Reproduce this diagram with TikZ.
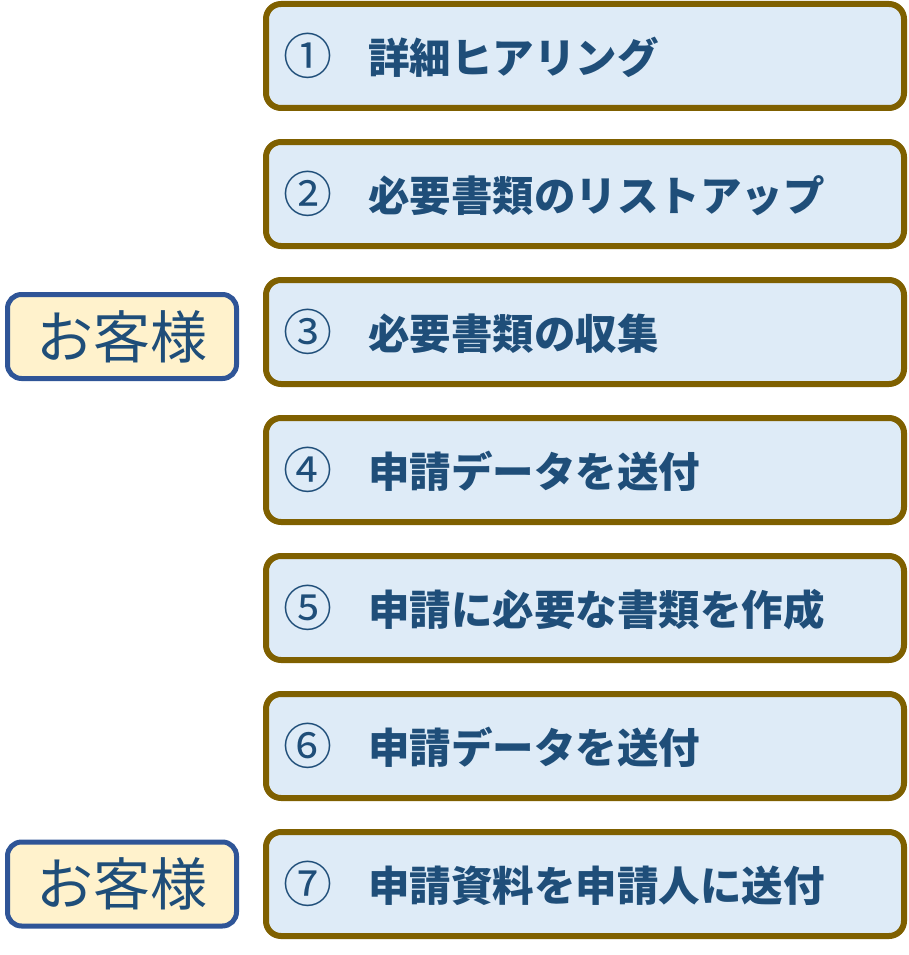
\documentclass[tikz,border=0pt]{standalone}
\usepackage{fontspec}
\newfontfamily\jp{Noto Sans CJK JP}
\definecolor{stepline}{HTML}{7F6000}
\definecolor{stepfill}{HTML}{DEEBF7}
\definecolor{txt}{HTML}{1F4E79}
\definecolor{custline}{HTML}{2F5597}
\definecolor{custfill}{HTML}{FFF2CC}
\tikzset{
  stepbox/.style={draw=stepline, fill=stepfill, line width=6pt, rounded corners=15pt,
    text width=604pt, inner xsep=17pt, inner ysep=0pt, minimum height=104pt, align=left,
    text=txt, font=\jp\bfseries\fontsize{41.5}{48}\selectfont},
  custbox/.style={draw=custline, fill=custfill, line width=5pt, rounded corners=14pt,
    minimum width=229pt, minimum height=84pt, inner sep=0pt,
    text=txt, font=\jp\fontsize{57}{64}\selectfont}
}
\newcommand{\stepline}[2]{\raisebox{-4pt}{\makebox[85pt][l]{\raisebox{-1.5pt}{\mdseries\fontsize{49}{50}\selectfont #1}}#2}}
\newcommand{\custline}[1]{\raisebox{-4.5pt}{#1}}
\begin{document}
\begin{tikzpicture}[x=1pt,y=-1pt]
\useasboundingbox (0,0) rectangle (909,955);
\node[stepbox] (s1) at (585,56)  {\stepline{①}{詳細ヒアリング}};
\node[stepbox] (s2) at (585,194) {\stepline{②}{必要書類のリストアップ}};
\node[stepbox] (s3) at (585,332) {\stepline{③}{必要書類の収集}};
\node[stepbox] (s4) at (585,470) {\stepline{④}{申請データを送付}};
\node[stepbox] (s5) at (585,608) {\stepline{⑤}{申請に必要な書類を作成}};
\node[stepbox] (s6) at (585,746) {\stepline{⑥}{申請データを送付}};
\node[stepbox] (s7) at (585,884) {\stepline{⑦}{申請資料を申請人に送付}};
\node[custbox] (c1) at (122,336.5) {\custline{お客様}};
\node[custbox] (c2) at (122,884) {\custline{お客様}};
\end{tikzpicture}
\end{document}
